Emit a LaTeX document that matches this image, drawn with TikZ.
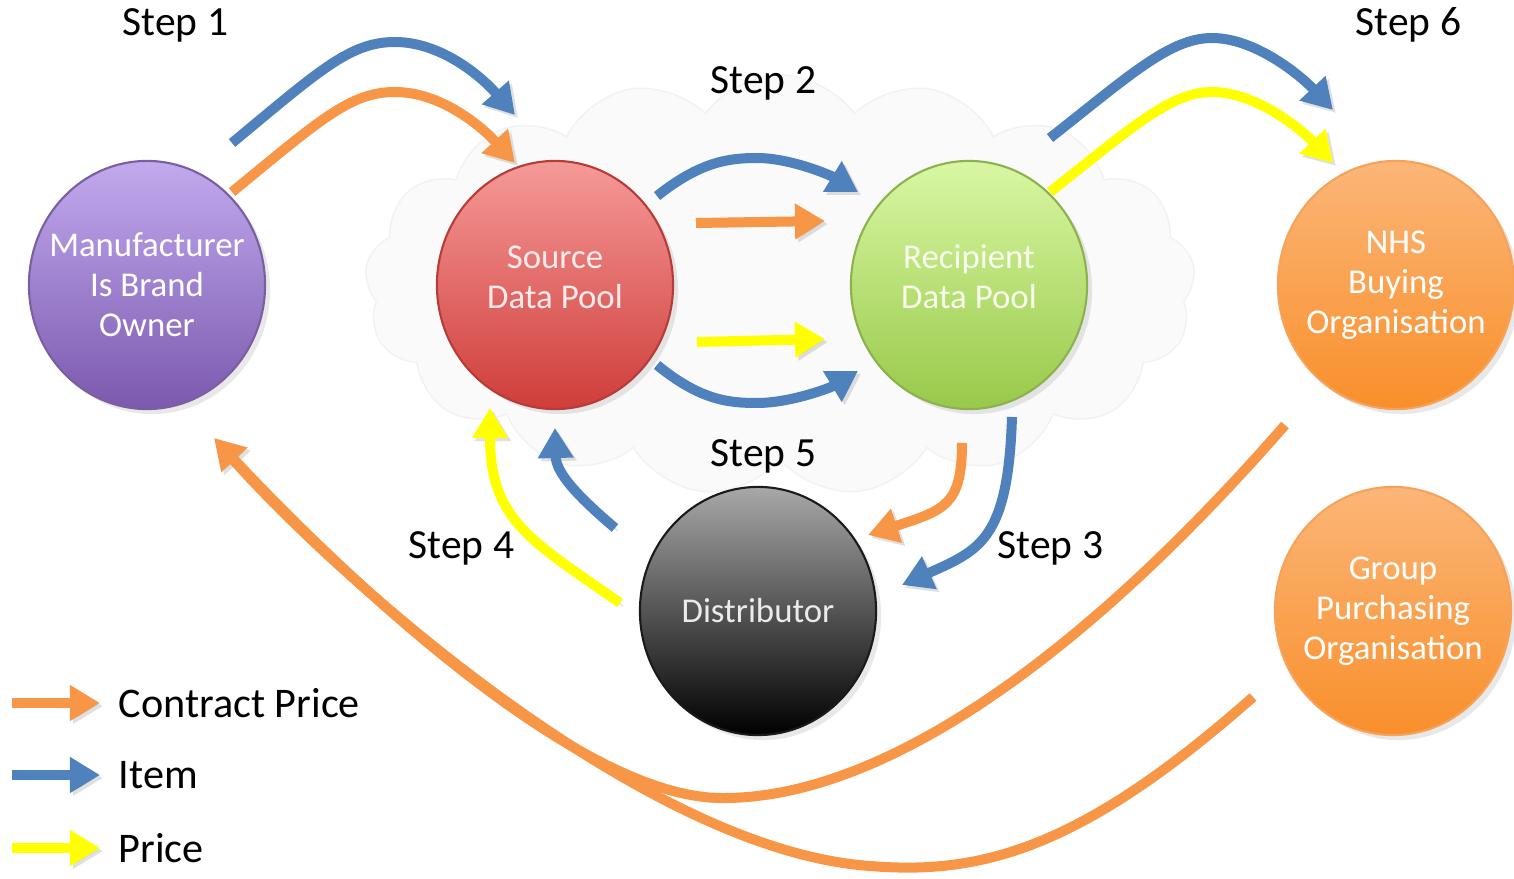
\documentclass[tikz,border=0pt]{standalone}
\usepackage{fontspec}
\setmainfont{Carlito}
\usetikzlibrary{arrows.meta, shapes.geometric, shapes.symbols, shadows}
\definecolor{arrorange}{HTML}{F79646}
\definecolor{arrblue}{HTML}{4F81BD}
\definecolor{arryellow}{HTML}{FFFF00}
\definecolor{mfrtop}{HTML}{C2AAEE}
\definecolor{mfrbot}{HTML}{7B59AE}
\definecolor{mfrline}{HTML}{7A5FA0}
\definecolor{srctop}{HTML}{F59A98}
\definecolor{srcbot}{HTML}{CF3D3A}
\definecolor{srcline}{HTML}{B53C38}
\definecolor{rcptop}{HTML}{D9F7A3}
\definecolor{rcpbot}{HTML}{98C94A}
\definecolor{rcpline}{HTML}{8CB24E}
\definecolor{nhstop}{HTML}{FBB678}
\definecolor{nhsbot}{HTML}{F98F2B}
\definecolor{nhsline}{HTML}{F6A25A}
\definecolor{distop}{HTML}{A8A8A8}
\definecolor{disbot}{HTML}{000000}
\definecolor{disline}{HTML}{1A1A1A}

\begin{document}
\begin{tikzpicture}[x=0.01cm, y=-0.01cm,
	ball/.style n args={3}{ellipse, minimum width=2.36cm, minimum height=2.48cm, inner sep=0pt, top color=#1, bottom color=#2, draw=#3, line width=0.6pt, drop shadow={opacity=0.18, shadow xshift=0.05cm, shadow yshift=-0.05cm}},
	balltxt/.style={align=center, text=white, inner sep=0pt, font=\fontsize{9.9}{11.4}\selectfont},
	flow/.style={line width=0.1cm, -{Triangle[length=0.3cm, width=0.34cm]}, preaction={draw=black!40, opacity=0.3, transform canvas={shift={(0.03cm,-0.03cm)}}}},
	steplbl/.style={anchor=west, inner sep=0pt, font=\fontsize{11.8}{14}\selectfont},
	legtxt/.style={anchor=west, inner sep=0pt, font=\fontsize{12}{14}\selectfont}]
			\useasboundingbox (0,0) rectangle (1514,879);
			\node[cloud, cloud puffs=17, cloud puff arc=110, cloud ignores aspect, minimum width=8.3cm, minimum height=4.2cm, fill=black!2, draw=black!5] (pool) at (780,285) {};

			\node[ball={mfrtop}{mfrbot}{mfrline}, label={[balltxt]center:Manufacturer\\Is Brand\\Owner}]                (mfr)  at (147,285)  {};
			\node[ball={srctop}{srcbot}{srcline}, label={[balltxt, text=white!92!red, yshift=0.08cm]center:Source\\Data Pool}] (src)  at (555,285)  {};
			\node[ball={rcptop}{rcpbot}{rcpline}, label={[balltxt, text=white!82!rcptop, yshift=0.08cm]center:Recipient\\Data Pool}] (rcp) at (969,285) {};
			\node[ball={nhstop}{nhsbot}{nhsline}, label={[balltxt]center:NHS\\Buying\\Organisation}]                   (nhs)  at (1396,285) {};
			\node[ball={distop}{disbot}{disline}, label={[balltxt, text=white!92!black]center:Distributor}]          (dist) at (758,611)  {};
			\node[ball={nhstop}{nhsbot}{nhsline}, label={[balltxt]center:Group\\Purchasing\\Organisation}]            (gpo)  at (1393,611) {};

			\node[steplbl] (step 1) at (122,25)  {Step 1};
			\node[steplbl] (step 2) at (710,83)  {Step 2};
			\node[steplbl] (step 3) at (997,548) {Step 3};
			\node[steplbl] (step 4) at (408,548) {Step 4};
			\node[steplbl] (step 5) at (710,456) {Step 5};
			\node[steplbl] (step 6) at (1355,25) {Step 6};

			\coordinate (item1 a) at (232,143);
			\coordinate (item1 b) at (515,115);
			\coordinate (cp1 a) at (232,192);
			\coordinate (cp1 b) at (515,163);
			\draw[flow, arrblue] (item1 a) .. controls (320,70) and (350,42) .. (395,42) .. controls (440,42) and (480,75) .. (item1 b);
			\draw[flow, arrorange] (cp1 a) .. controls (320,120) and (350,92) .. (395,92) .. controls (440,92) and (480,125) .. (cp1 b);

			\coordinate (item2 a) at (657,196);
			\coordinate (item2 b) at (858,192);
			\coordinate (cp2 a) at (696,223);
			\coordinate (cp2 b) at (825,221);
			\coordinate (pr2 a) at (697,342);
			\coordinate (pr2 b) at (825,339);
			\coordinate (item2c a) at (657,365);
			\coordinate (item2c b) at (858,371);
			\draw[flow, arrblue] (item2 a) .. controls (700,162) and (728,158) .. (757,158) .. controls (790,158) and (830,175) .. (item2 b);
			\draw[flow, arrorange] (cp2 a) -- (cp2 b);
			\draw[flow, arryellow] (pr2 a) -- (pr2 b);
			\draw[flow, arrblue] (item2c a) .. controls (700,400) and (728,403) .. (757,403) .. controls (790,403) and (830,388) .. (item2c b);

			\coordinate (cp3 a) at (962,443);
			\coordinate (cp3 b) at (868,535);
			\coordinate (item3 a) at (1012,417);
			\coordinate (item3 b) at (902,585);
			\draw[flow, arrorange] (cp3 a) .. controls (962,505) and (945,510) .. (cp3 b);
			\draw[flow, arrblue] (item3 a) .. controls (1008,540) and (980,550) .. (item3 b);

			\coordinate (pr4 a) at (620,603);
			\coordinate (pr4 b) at (490,408);
			\coordinate (item4 a) at (615,528);
			\coordinate (item4 b) at (555,428);
			\draw[flow, arryellow] (pr4 a) .. controls (530,540) and (490,520) .. (pr4 b);
			\draw[flow, arrblue] (item4 a) .. controls (570,490) and (556,470) .. (item4 b);

			\coordinate (item6 a) at (1050,138);
			\coordinate (item6 b) at (1333,110);
			\coordinate (pr6 a) at (1050,192);
			\coordinate (pr6 b) at (1333,163);
			\draw[flow, arrblue] (item6 a) .. controls (1130,75) and (1170,38) .. (1212,38) .. controls (1255,38) and (1300,75) .. (item6 b);
			\draw[flow, arryellow] (pr6 a) .. controls (1130,129) and (1170,92) .. (1212,92) .. controls (1255,92) and (1300,128) .. (pr6 b);

			\coordinate (nhs out) at (1285,425);
			\coordinate (gpo out) at (1253,697);
			\coordinate (mfr in) at (214,438);
			\draw[flow, arrorange, -, shorten >=0.25cm] (gpo out) .. controls (1080,850) and (980,875) .. (870,866) .. controls (640,850) and (330,570) .. (mfr in);
			\draw[flow, arrorange] (nhs out) .. controls (1080,660) and (880,800) .. (720,798) .. controls (560,796) and (300,530) .. (mfr in);

			\coordinate (leg1) at (12,703);
			\coordinate (leg2) at (12,775);
			\coordinate (leg3) at (12,848);
			\node[legtxt] (contract) at (118,703) {Contract Price};
			\node[legtxt] (item)     at (118,775) {Item};
			\node[legtxt] (price)    at (118,848) {Price};
			\draw[flow, arrorange] (leg1) -- (leg1 -| 100,0);
			\draw[flow, arrblue] (leg2) -- (leg2 -| 100,0);
			\draw[flow, arryellow] (leg3) -- (leg3 -| 100,0);
		\end{tikzpicture}
\end{document}
